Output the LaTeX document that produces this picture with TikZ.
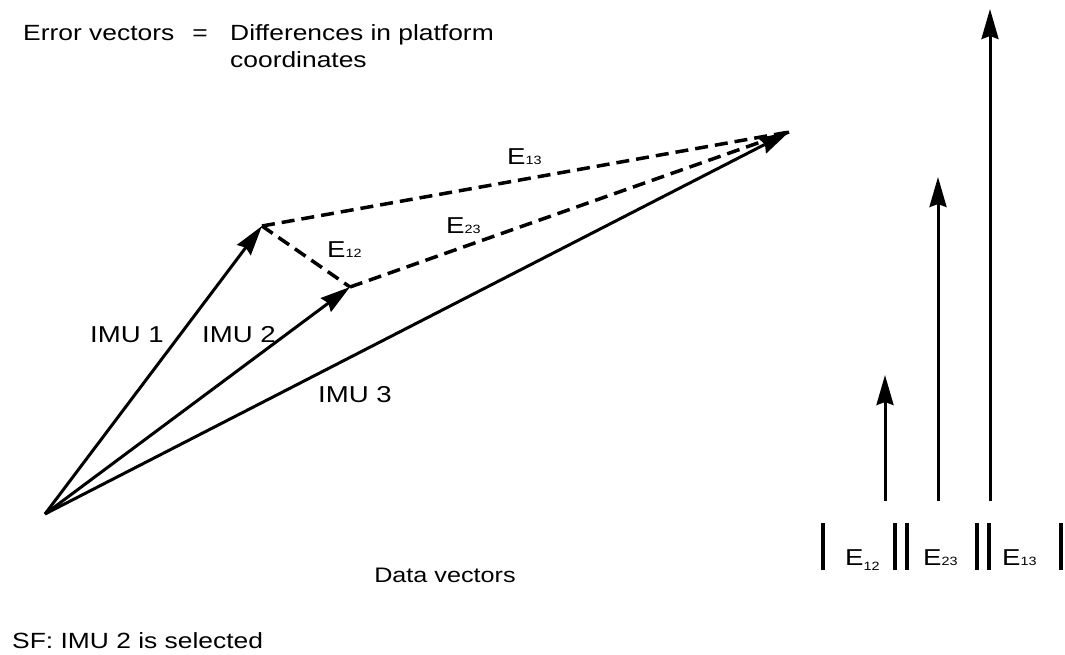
\documentclass[tikz,border=0pt]{standalone}
\usepackage{fontspec}
\setmainfont{Liberation Sans}[FakeStretch=1.2]
\usetikzlibrary{arrows.meta}
\tikzset{
  vec/.style={line width=3pt,-{Stealth[length=30pt,width=17pt,inset=3pt]}},
  err/.style={line width=3.5pt,dash pattern=on 13pt off 7pt},
  bar/.style={line width=4pt},
  lbl/.style={anchor=base west,inner sep=0pt,font=\fontsize{23}{27}\selectfont},
  hdr/.style={anchor=base west,inner sep=0pt,font=\fontsize{22}{27}\selectfont},
}
\newcommand{\Esub}[1]{E{\fontsize{12}{14}\selectfont #1}}
\newcommand{\Elow}[1]{E\raisebox{-5pt}{\fontsize{12}{14}\selectfont #1}}
\begin{document}
\begin{tikzpicture}[x=1pt,y=-1pt]
\useasboundingbox (0,0) rectangle (1065,654);
% header
\node[hdr] (h1) at (23,40) {Error vectors};
\node[hdr,anchor=base] (heq) at (200,40) {=};
\node[hdr] (h2) at (230,40) {Differences in platform};
\node[hdr] (h3) at (230,67) {coordinates};
% data vectors
\coordinate (O) at (45,514);
\coordinate (A1) at (262,226);
\coordinate (A2) at (350,287);
\coordinate (A3) at (789,132);
\draw[err] (A1) -- (A3);
\draw[err] (A1) -- (A2);
\draw[err] (A2) -- (A3);
\draw[vec] (O) -- (A1);
\draw[vec] (O) -- (A2);
\draw[vec] (O) -- (A3);
\node[lbl] (e13) at (507,164) {\Esub{13}};
\node[lbl] (e23) at (446,233) {\Esub{23}};
\node[lbl] (e12) at (327,257) {\Esub{12}};
\node[lbl] (imu1) at (90,342) {IMU 1};
\node[lbl] (imu2) at (202,342) {IMU 2};
\node[lbl] (imu3) at (318,402) {IMU 3};
\node[lbl,anchor=base,font=\fontsize{21}{24}\selectfont] (dv) at (445,582) {Data vectors};
\node[lbl,font=\fontsize{22}{25}\selectfont] (sf) at (12,648) {SF: IMU 2 is selected};
% magnitudes
\coordinate (B1) at (885,501);
\coordinate (T1) at (885,375);
\coordinate (B2) at (938,501);
\coordinate (T2) at (938,177);
\coordinate (B3) at (990,501);
\coordinate (T3) at (990,9);
\draw[vec] (B1) -- (T1);
\draw[vec] (B2) -- (T2);
\draw[vec] (B3) -- (T3);
\foreach \x in {823,895,907,977,989,1061} \draw[bar] (\x,523) -- (\x,570);
\node[lbl] (m12) at (845,565) {\Elow{12}};
\node[lbl] (m23) at (923,565) {\Esub{23}};
\node[lbl] (m13) at (1002,565) {\Esub{13}};
\end{tikzpicture}
\end{document}
